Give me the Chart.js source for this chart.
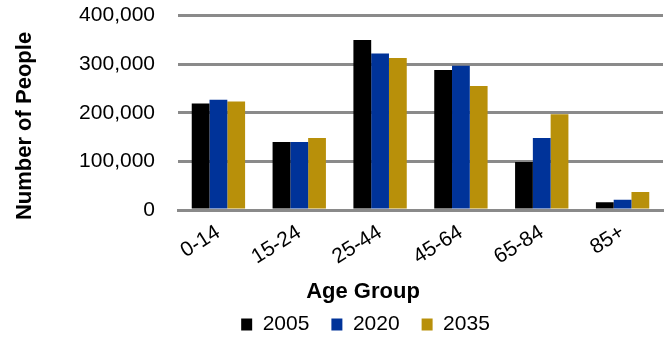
<!DOCTYPE html>
<html>
<head>
<meta charset="utf-8">
<script src="https://cdn.jsdelivr.net/npm/chart.js@4/dist/chart.umd.min.js"></script>
<style>
  html, body { margin: 0; padding: 0; background: #fff; }
  #wrap { width: 670px; height: 341px; }
</style>
</head>
<body>
<div id="wrap"><canvas id="age-chart"></canvas></div>
<script>
const age_groups = ['0-14', '15-24', '25-44', '45-64', '65-84', '85+'];
const series_years = ['2005', '2020', '2035'];
const people_2005 = [219000, 140000, 350000, 288000, 99000, 16000];
const people_2020 = [227000, 140000, 322000, 297000, 148000, 21000];
const people_2035 = [223000, 148000, 313000, 255000, 197000, 37000];
const y_ticks = [0, 100000, 200000, 300000, 400000];

const bar_colors = ['#000000', '#003399', '#b8900a'];
const grid_gray = '#8a8a8a';
const font_family = '"Liberation Sans", Arial, Helvetica, sans-serif';

// axis titles drawn by hand so they can sit off the plot centre
const axis_titles = {
    id: 'axis_titles',
    afterLayout(chart) {
        // shift the legend box so its items centre further left and a bit lower
        chart.legend.left = 68;
        chart.legend.top += 4;
    },
    afterDraw(chart) {
        const ctx = chart.ctx;
        ctx.save();
        ctx.fillStyle = '#000';
        ctx.font = 'bold 22px ' + font_family;
        ctx.textAlign = 'center';
        ctx.textBaseline = 'middle';
        ctx.fillText('Age Group', 363, 292);
        ctx.translate(25, 126);
        ctx.rotate(-Math.PI / 2);
        ctx.fillText('Number of People', 0, 0);
        ctx.restore();
    }
};

let datasets = [people_2005, people_2020, people_2035].map((values, i) => ({
    label: series_years[i],
    data: values,
    backgroundColor: bar_colors[i],
    borderWidth: 0,
    categoryPercentage: 0.66,
    barPercentage: 1.0
}));

const ctx = document.getElementById('age-chart').getContext('2d');
let age_chart = new Chart(ctx, {
    type: 'bar',
    data: { labels: age_groups, datasets: datasets },
    options: {
        responsive: true,
        maintainAspectRatio: false,
        animation: false,
        layout: { padding: { top: 0, right: 7, left: 0, bottom: 0 } },
        plugins: {
            tooltip: { enabled: false },
            legend: {
                position: 'bottom',
                labels: {
                    boxWidth: 11,
                    boxHeight: 12,
                    padding: 22,
                    color: '#000',
                    font: { family: font_family, size: 21 }
                }
            }
        },
        scales: {
            x: {
                grid: { display: false, drawTicks: false },
                border: { display: true, color: grid_gray, width: 3 },
                ticks: {
                    color: '#000',
                    font: { family: font_family, size: 21 },
                    minRotation: 32,
                    maxRotation: 32,
                    autoSkip: false,
                    padding: 10
                },
                afterFit: scale => { scale.height = 78; }
            },
            y: {
                min: 0,
                max: 400000,
                afterBuildTicks: scale => {
                    scale.ticks = y_ticks.map(v => ({ value: v }));
                },
                // hidden tick marks keep the labels clear of the plot
                grid: { color: grid_gray, lineWidth: 3, drawTicks: true, tickLength: 20, tickColor: 'rgba(0,0,0,0)' },
                border: { display: false },
                ticks: {
                    color: '#000',
                    padding: 3,
                    font: { family: font_family, size: 21 },
                    callback: v => v.toLocaleString('en-US')
                },
                afterFit: scale => { scale.width = 178; }
            }
        }
    },
    plugins: [axis_titles]
});
</script>
</body>
</html>
